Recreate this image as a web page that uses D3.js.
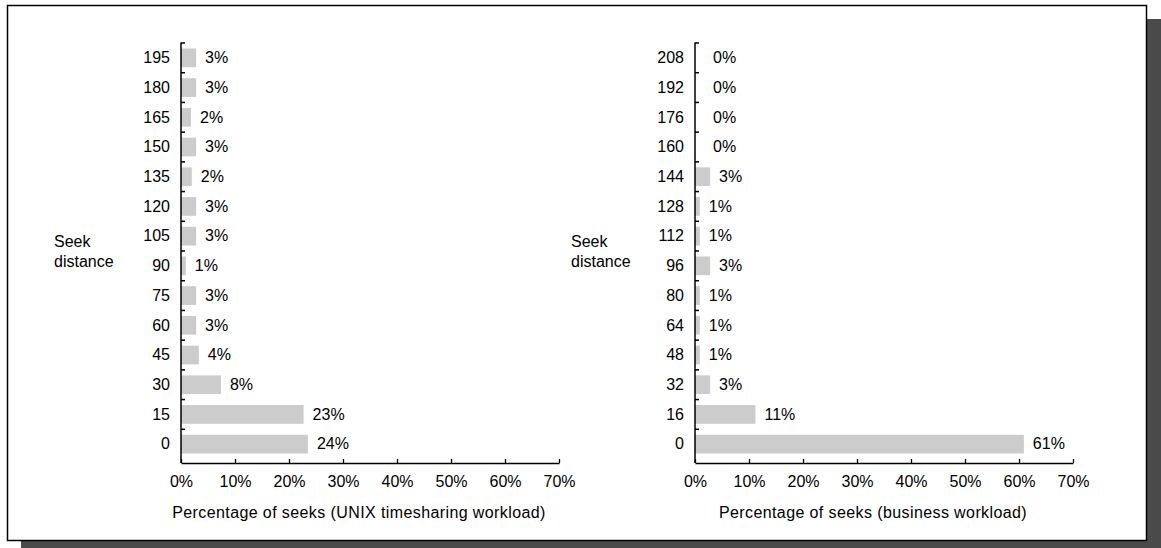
<!DOCTYPE html>
<html><head><meta charset="utf-8">
<script src="https://cdn.jsdelivr.net/npm/d3@7"></script>
<style>
html,body{margin:0;padding:0;background:#fff;}
svg{display:block;font-family:"Liberation Sans",Arial,Helvetica,sans-serif;}
</style></head>
<body>
<svg id="c" width="1161" height="548"></svg>
<script>
// UNIX timesharing workload
const unixCategories = ["195","180","165","150","135","120","105","90","75","60","45","30","15","0"];
const unixValues     = [2.8, 2.8, 1.85, 2.8, 2.0, 2.8, 2.8, 0.9, 2.8, 2.8, 3.3, 7.4, 22.7, 23.5];
const unixLabels     = ["3%","3%","2%","3%","2%","3%","3%","1%","3%","3%","4%","8%","23%","24%"];
// Business workload
const bizCategories  = ["208","192","176","160","144","128","112","96","80","64","48","32","16","0"];
const bizValues      = [0, 0, 0, 0, 2.8, 0.9, 0.9, 2.8, 0.9, 0.9, 0.9, 2.8, 11.2, 60.9];
const bizLabels      = ["0%","0%","0%","0%","3%","1%","1%","3%","1%","1%","1%","3%","11%","61%"];
// Axis ticks
const xTicks = [0,10,20,30,40,50,60,70];
const yAxisTitle = ["Seek","distance"];
const unixTitle = "Percentage of seeks (UNIX timesharing workload)";
const bizTitle = "Percentage of seeks (business workload)";

const FS = 16;
const svg = d3.select("#c");
// shadow + frame
svg.append("rect").attr("x",21).attr("y",19).attr("width",1140).attr("height",529).attr("fill","#4a4a4a");
svg.append("rect").attr("x",7.5).attr("y",5.5).attr("width",1139).attr("height",535)
  .attr("fill","#fff").attr("stroke","#000").attr("stroke-width",1.5);

function panel(x0, cats, vals, labels, title, labelX){
  const x = d3.scaleLinear().domain([0,70]).range([x0, x0+378]);
  const y = d3.scaleBand().domain(cats).range([43,459]).paddingInner(0.37).paddingOuter(0.185);
  const g = svg.append("g");
  // bars
  g.selectAll("rect.bar").data(vals).enter().append("rect")
    .attr("x", x(0)).attr("y",(d,i)=>y(cats[i]))
    .attr("width", d=>x(d)-x(0)).attr("height", y.bandwidth())
    .attr("fill","#cccccc");
  // value labels
  g.selectAll("text.val").data(vals).enter().append("text")
    .attr("x",(d)=>x(d)+ (d===0?18:9))
    .attr("y",(d,i)=>y(cats[i])+y.bandwidth()/2+1)
    .attr("dominant-baseline","middle")
    .attr("font-size",FS).attr("fill","#000")
    .text((d,i)=>labels[i]);
  // category labels
  g.selectAll("text.cat").data(cats).enter().append("text")
    .attr("x", x0-11).attr("y", d=>y(d)+y.bandwidth()/2+1)
    .attr("text-anchor","end").attr("dominant-baseline","middle")
    .attr("font-size",FS).text(d=>d);
  // y axis line + ticks at band boundaries
  g.append("line").attr("x1",x0).attr("x2",x0).attr("y1",42.5).attr("y2",463)
    .attr("stroke","#000").attr("stroke-width",1.5);
  const step = y.step();
  g.selectAll("line.yt").data(cats).enter().append("line")
    .attr("x1",x0).attr("x2",x0+4)
    .attr("y1",(d,i)=>43+i*step).attr("y2",(d,i)=>43+i*step)
    .attr("stroke","#000").attr("stroke-width",1.5);
  // x axis
  const ax = d3.axisBottom(x).tickValues(xTicks).tickSize(-4).tickSizeOuter(0)
    .tickFormat(d=>d+"%");
  const axg = g.append("g").attr("transform","translate(0,463)").call(ax);
  axg.select(".domain").attr("stroke","#000").attr("stroke-width",1.5);
  axg.selectAll(".tick line").attr("stroke","#000").attr("stroke-width",1.3);
  axg.selectAll(".tick text").attr("font-size",FS).attr("font-family",null).attr("fill","#000")
    .attr("y",13).attr("dy","0.71em");
  // x title
  g.append("text").attr("x", x0+178).attr("y",518).attr("text-anchor","middle")
    .attr("font-size",FS).attr("letter-spacing",0.4).text(title);
  // y title
  const yt = g.append("text").attr("x",labelX).attr("y",247).attr("font-size",FS);
  yAxisTitle.forEach((t,i)=>yt.append("tspan").attr("x",labelX).attr("dy",i?20:0).text(t));
}
panel(181, unixCategories, unixValues, unixLabels, unixTitle, 54);
panel(695, bizCategories, bizValues, bizLabels, bizTitle, 571);
</script>
</body></html>
